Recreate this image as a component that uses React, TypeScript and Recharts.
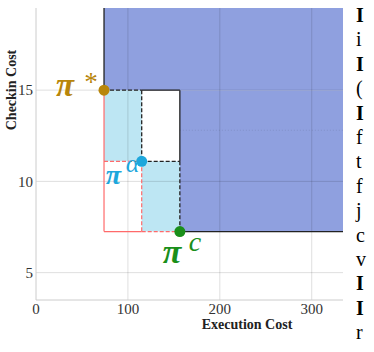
import React from 'react';
import {
  ComposedChart,
  XAxis,
  YAxis,
  Scatter,
  ReferenceArea,
  ReferenceLine,
} from 'recharts';

// ---- data ----
const pointNames = ['π*', 'πα', 'πc'];
const pointBase = ['π', 'π', 'π'];
const pointSup = ['*', 'α', 'c'];
const execCost = [74, 115, 156.5];
const checkinCost = [15, 11.1, 7.25];
const xTicks = [0, 100, 200, 300];
const yTicks = [5, 10, 15];
const xDomain: [number, number] = [0, 334];
const yDomain: [number, number] = [3.5, 19.5];
const faintLevel = 12.8;
const sideLetters = ['I', 'i', 'I', '(', 'I', 'f', 't', 'f', 'j', 'c', 'v', 'I', 'I', 'r'];
const sideBold = [true, false, true, false, true, false, false, false, false, false, false, true, true, false];

// ---- styles ----
const FONT = 'Liberation Serif';
const MATH = 'Liberation Serif';
const pointColors = ['#b8860b', '#1ea7dc', '#1a8f1a'];
const DARK = '#8fa0df';
const LIGHT = '#bde6f3';
const RED = '#ff6a6a';
const GRID = 'rgba(0,0,0,0.13)';
const labelLayout = [
  { bx: -48, by: 6, bs: 33, sx: -21, sy: 1, ss: 27 },
  { bx: -36, by: 23, bs: 28, sx: -16, sy: 11, ss: 26 },
  { bx: -17, by: 31, bs: 34, sx: 9, sy: 19, ss: 28 },
];

const points = pointNames.map((n, i) => ({
  name: n,
  x: execCost[i],
  y: checkinCost[i],
  idx: i,
}));

const renderPoint = (props: any) => {
  const { cx, cy, payload } = props;
  const i = payload.idx;
  const l = labelLayout[i];
  const c = pointColors[i];
  return (
    <g>
      <circle cx={cx} cy={cy} r={5.5} fill={c} />
      <text x={cx + l.bx} y={cy + l.by} fill={c} fontSize={l.bs} fontStyle="italic" fontWeight="bold" fontFamily={MATH} style={{ fontFamily: MATH }}>
        {pointBase[i]}
      </text>
      <text x={cx + l.sx} y={cy + l.sy} fill={c} fontSize={l.ss} fontStyle="italic" fontFamily={MATH} style={{ fontFamily: MATH }}>
        {pointSup[i]}
      </text>
    </g>
  );
};

const XTick = (props: any) => {
  const { x, y, payload } = props;
  return (
    <text x={x} y={y} dy="0.75em" textAnchor="middle" fill="#333" fontSize={15} fontFamily={FONT} style={{ fontFamily: FONT }}>
      {payload.value}
    </text>
  );
};

const YTick = (props: any) => {
  const { x, y, payload } = props;
  return (
    <text x={x} y={y} dy="0.35em" textAnchor="end" fill="#333" fontSize={15} fontFamily={FONT} style={{ fontFamily: FONT }}>
      {payload.value}
    </text>
  );
};

const [e0, e1, e2] = execCost;
const [c0, c1, c2] = checkinCost;
const xMax = xDomain[1];
const yMax = yDomain[1];

export default function App() {
  return (
    <div style={{ position: 'absolute', left: 0, top: 0, width: 374, height: 352, background: '#fff' }}>
      <ComposedChart
        width={374}
        height={352}
        margin={{ top: 8, right: 31, bottom: 30, left: 6 }}
        data={points}
        style={{ fontFamily: FONT }}
      >
        <XAxis
          type="number"
          dataKey="x"
          domain={xDomain}
          ticks={xTicks}
          allowDataOverflow
          height={22}
          tickLine={false}
          tickSize={0}
          tickMargin={3}
          axisLine={{ stroke: '#cccccc' }}
          tick={<XTick />}
        />
        <YAxis
          type="number"
          dataKey="y"
          domain={yDomain}
          ticks={yTicks}
          allowDataOverflow
          width={30}
          tickLine={false}
          tickSize={0}
          tickMargin={3}
          axisLine={{ stroke: '#cccccc' }}
          tick={<YTick />}
        />
        {/* feasible dark region */}
        <ReferenceArea x1={e0} x2={xMax} y1={c0} y2={yMax} fill={DARK} fillOpacity={1} stroke="none" />
        <ReferenceArea x1={e2} x2={xMax} y1={c2} y2={c0} fill={DARK} fillOpacity={1} stroke="none" />
        {/* light regions */}
        <ReferenceArea x1={e0} x2={e1} y1={c1} y2={c0} fill={LIGHT} fillOpacity={1} stroke="none" />
        <ReferenceArea x1={e1} x2={e2} y1={c2} y2={c1} fill={LIGHT} fillOpacity={1} stroke="none" />
        {/* grid on top */}
        {xTicks.filter((t) => t > 0).map((t) => (
          <ReferenceLine key={'gx' + t} x={t} stroke={GRID} strokeWidth={1} />
        ))}
        {yTicks.map((t) => (
          <ReferenceLine key={'gy' + t} y={t} stroke={GRID} strokeWidth={1} />
        ))}
        <ReferenceLine
          segment={[{ x: e2, y: faintLevel }, { x: xMax, y: faintLevel }]}
          stroke="rgba(0,0,0,0.1)"
          strokeDasharray="1 2"
        />
        {/* red lines */}
        <ReferenceLine segment={[{ x: e0, y: c0 }, { x: e0, y: c2 }]} stroke={RED} strokeWidth={1.2} />
        <ReferenceLine segment={[{ x: e0, y: c2 }, { x: e1, y: c2 }]} stroke={RED} strokeWidth={1.2} />
        <ReferenceLine segment={[{ x: e0, y: c1 }, { x: e1, y: c1 }]} stroke={RED} strokeWidth={1.2} strokeDasharray="4 2" />
        <ReferenceLine segment={[{ x: e1, y: c1 }, { x: e1, y: c2 }]} stroke={RED} strokeWidth={1.2} strokeDasharray="4 2" />
        <ReferenceLine segment={[{ x: e1, y: c2 }, { x: e2, y: c2 }]} stroke={RED} strokeWidth={1.2} strokeDasharray="4 2" />
        {/* black lines */}
        <ReferenceLine segment={[{ x: e0, y: yMax }, { x: e0, y: c0 }]} stroke="#222" strokeWidth={1.3} />
        <ReferenceLine segment={[{ x: e0, y: c0 }, { x: e1, y: c0 }]} stroke="#222" strokeWidth={1.3} strokeDasharray="4 2" />
        <ReferenceLine segment={[{ x: e1, y: c0 }, { x: e2, y: c0 }]} stroke="#222" strokeWidth={1.3} />
        <ReferenceLine segment={[{ x: e2, y: c0 }, { x: e2, y: c1 }]} stroke="#222" strokeWidth={1.3} />
        <ReferenceLine segment={[{ x: e2, y: c1 }, { x: e2, y: c2 }]} stroke="#222" strokeWidth={1.3} strokeDasharray="4 2" />
        <ReferenceLine segment={[{ x: e2, y: c2 }, { x: xMax, y: c2 }]} stroke="#222" strokeWidth={1.3} />
        <ReferenceLine segment={[{ x: e1, y: c0 }, { x: e1, y: c1 }]} stroke="#222" strokeWidth={1.3} strokeDasharray="4 2" />
        <ReferenceLine segment={[{ x: e1, y: c1 }, { x: e2, y: c1 }]} stroke="#222" strokeWidth={1.3} strokeDasharray="4 2" />
        <Scatter dataKey="y" isAnimationActive={false} shape={renderPoint} />
      </ComposedChart>
      <div
        style={{
          position: 'absolute',
          left: 12,
          top: 90,
          width: 0,
          height: 0,
        }}
      >
        <div
          style={{
            position: 'absolute',
            left: 0,
            top: 0,
            transform: 'translate(-50%, -50%) rotate(-90deg)',
            whiteSpace: 'nowrap',
            fontFamily: FONT,
            fontWeight: 'bold',
            fontSize: 14,
            lineHeight: '16px',
            color: '#222',
          }}
        >
          Checkin Cost
        </div>
      </div>
      <div
        style={{
          position: 'absolute',
          left: 247,
          top: 317,
          transform: 'translateX(-50%)',
          whiteSpace: 'nowrap',
          fontFamily: FONT,
          fontWeight: 'bold',
          fontSize: 14,
          color: '#222',
          lineHeight: '16px',
        }}
      >
        Execution Cost
      </div>
      <div
        style={{
          position: 'absolute',
          left: 356,
          top: 3,
          fontFamily: FONT,
          fontSize: 20,
          lineHeight: '24.4px',
          color: '#000',
          whiteSpace: 'pre',
        }}
      >
        {sideLetters.map((s, i) => (
          <div key={i} style={{ fontWeight: sideBold[i] ? 'bold' : 'normal' }}>
            {s}
          </div>
        ))}
      </div>
    </div>
  );
}
